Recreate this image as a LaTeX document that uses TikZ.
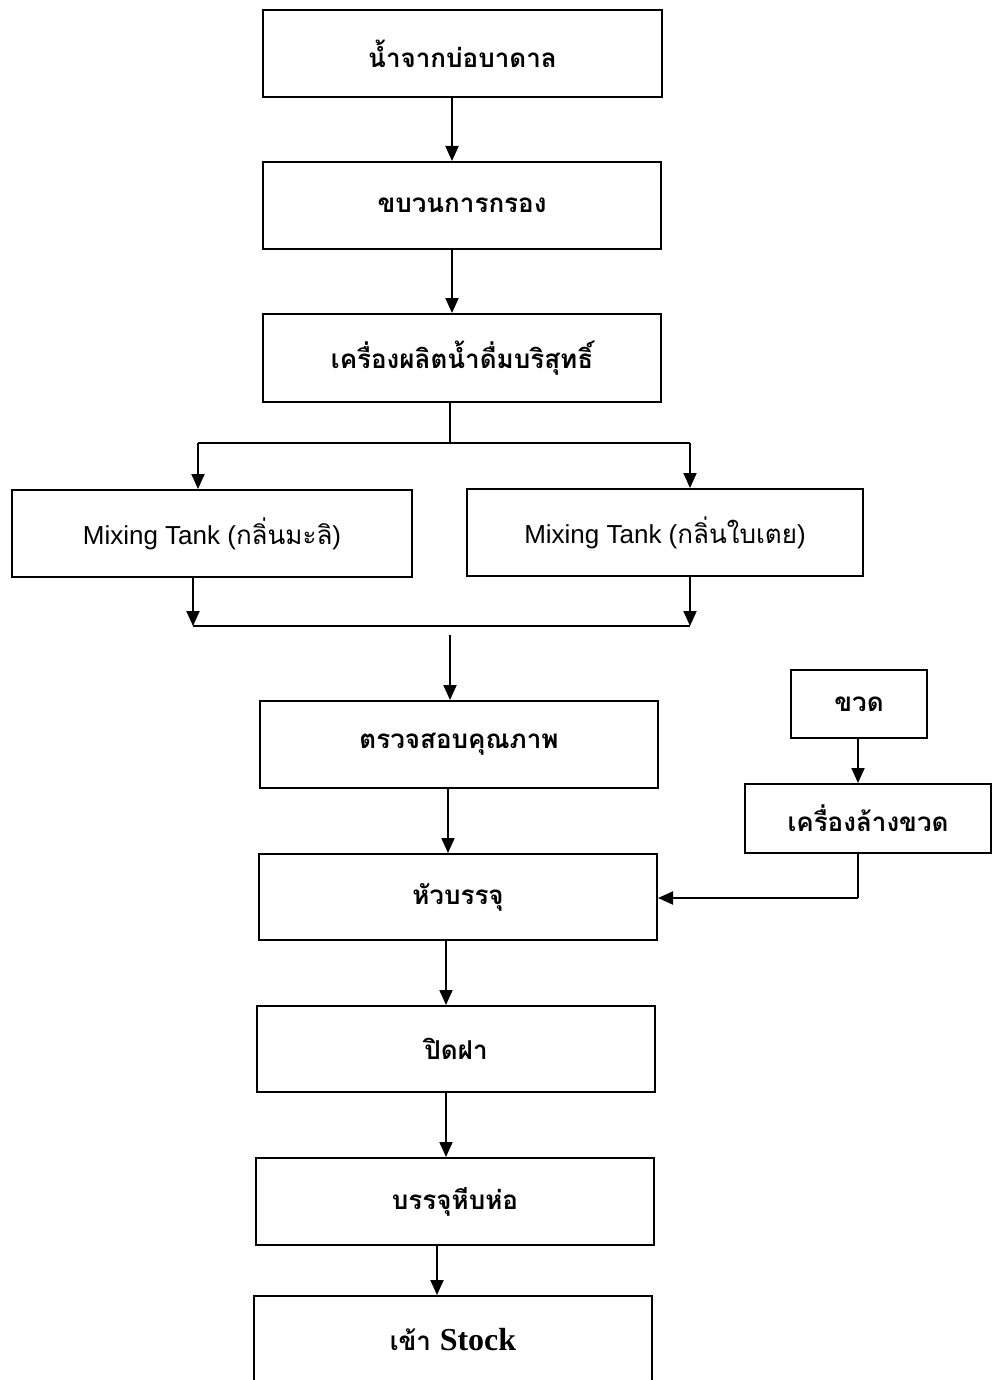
\documentclass[tikz,border=0pt]{standalone}
\usepackage{fontspec}
\setmainfont{Liberation Serif}
\newfontfamily\thaifont[Script=Thai]{Loma}
\newfontfamily\latsans{Liberation Sans}
\usetikzlibrary{arrows.meta}
\begin{document}
\begin{tikzpicture}[x=0.5pt,y=-0.5pt,
  box/.style={draw,line width=1pt,inner sep=0pt,font=\thaifont\bfseries\fontsize{13}{15}\selectfont},
  arr/.style={line width=1pt,-{Triangle[length=7.5pt,width=6.5pt]}},
  ln/.style={line width=1pt}]
\useasboundingbox (0,0) rectangle (992,1380);
\node[box,minimum width=199.5pt,minimum height=43.5pt] (b1) at (462.5,53.5) {น้ำจากบ่อบาดาล};
\node[box,minimum width=199pt,minimum height=43.5pt] (b2) at (462,205.5) {ขบวนการกรอง};
\node[box,minimum width=199pt,minimum height=44pt] (b3) at (462,358) {เครื่องผลิตน้ำดื่มบริสุทธิ์};
\node[box,minimum width=200pt,minimum height=43.5pt] (b4) at (212,533.5) {{\latsans\mdseries Mixing Tank (}{\thaifont\mdseries กลิ่นมะลิ}{\latsans\mdseries )}};
\node[box,minimum width=198pt,minimum height=43.5pt] (b5) at (665,532.5) {{\latsans\mdseries Mixing Tank (}{\thaifont\mdseries กลิ่นใบเตย}{\latsans\mdseries )}};
\node[box,minimum width=199pt,minimum height=43.5pt] (b6) at (459,744.5) {ตรวจสอบคุณภาพ};
\node[box,minimum width=68pt,minimum height=34pt] (b7) at (859,704) {ขวด};
\node[box,minimum width=123pt,minimum height=34.5pt] (b8) at (868,818.5) {เครื่องล้างขวด};
\node[box,minimum width=199pt,minimum height=43pt] (b9) at (458,897) {หัวบรรจุ};
\node[box,minimum width=199pt,minimum height=43pt] (b10) at (456,1049) {ปิดฝา};
\node[box,minimum width=199pt,minimum height=43.5pt] (b11) at (455,1201.5) {บรรจุหีบห่อ};
\node[box,minimum width=199pt,minimum height=45pt,text depth=0pt] (b12) at (453,1341) {\raisebox{2pt}{เข้า {\rmfamily\bfseries\fontsize{16}{18}\selectfont Stock}}};
% x positions
\coordinate (xa) at (452,0);
\coordinate (xb) at (450,0);
\coordinate (xl) at (198,0);
\coordinate (xr) at (690,0);
\coordinate (xl2) at (193,0);
\coordinate (xc) at (448,0);
\coordinate (xd) at (446,0);
\coordinate (xe) at (437,0);
\coordinate (xw) at (858,0);
\coordinate (j1) at (450,443);
\coordinate (jl) at (198,443);
\coordinate (jr) at (690,443);
\coordinate (m1) at (193,626);
\coordinate (m2) at (690,626);
\coordinate (m3) at (450,635);
\coordinate (k1) at (858,898);
\draw[arr] (b1.south -| xa) -- (b2.north -| xa);
\draw[arr] (b2.south -| xa) -- (b3.north -| xa);
\draw[ln] (b3.south -| xb) -- (j1);
\draw[ln] (jl) -- (jr);
\draw[arr] (jl) -- (b4.north -| xl);
\draw[arr] (jr) -- (b5.north -| xr);
\draw[arr] (b4.south -| xl2) -- (m1);
\draw[arr] (b5.south -| xr) -- (m2);
\draw[ln] (m1) -- (m2);
\draw[arr] (m3) -- (b6.north -| m3);
\draw[arr] (b6.south -| xc) -- (b9.north -| xc);
\draw[arr] (b7.south -| xw) -- (b8.north -| xw);
\draw[ln] (b8.south -| xw) -- (k1);
\draw[arr] (k1) -- (b9.east |- k1);
\draw[arr] (b9.south -| xd) -- (b10.north -| xd);
\draw[arr] (b10.south -| xd) -- (b11.north -| xd);
\draw[arr] (b11.south -| xe) -- (b12.north -| xe);
\end{tikzpicture}
\end{document}
